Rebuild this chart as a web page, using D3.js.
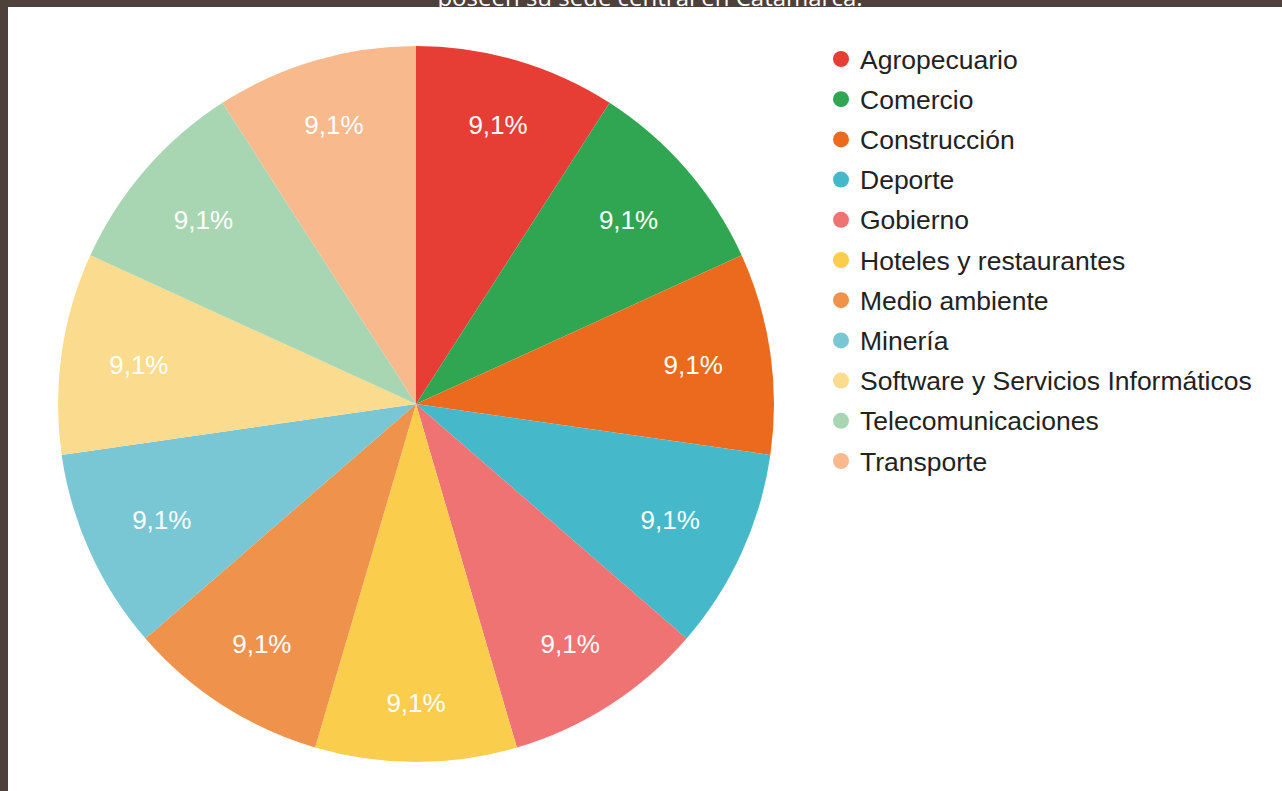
<!DOCTYPE html>
<html>
<head>
<meta charset="utf-8">
<script src="https://cdn.jsdelivr.net/npm/d3@7"></script>
<style>
  html, body { margin: 0; padding: 0; background: #4e403b; }
  svg { display: block; }
  .sans { font-family: "Liberation Sans", Arial, Helvetica, sans-serif; }
  .head { font-family: "Open Sans", sans-serif; }
</style>
</head>
<body>
<svg id="chart" width="1282" height="791"></svg>
<script>
// Sectors with headquarters in Catamarca (share of companies)
const categories = [
  "Agropecuario", "Comercio", "Construcción", "Deporte", "Gobierno",
  "Hoteles y restaurantes", "Medio ambiente", "Minería",
  "Software y Servicios Informáticos", "Telecomunicaciones", "Transporte"
];
const values = [1, 1, 1, 1, 1, 1, 1, 1, 1, 1, 1];
const colors = [
  "#e63e34", "#30a652", "#ec6a1e", "#45b9c9", "#ef7372",
  "#fbcd4c", "#ef924b", "#79c6d5", "#fbdc8e", "#a9d6b2", "#f8ba8d"
];
const titleText = "poseen su sede central en Catamarca.";

const svg = d3.select("#chart");
const W = 1282, H = 791;

// frame: dark band with the cut-off heading, white panel below
svg.append("rect").attr("width", W).attr("height", H).attr("fill", "#4e403b");
svg.append("text")
  .attr("class", "head")
  .attr("x", 650).attr("y", 6)
  .attr("text-anchor", "middle")
  .attr("font-size", 24)
  .attr("fill", "#ffffff")
  .text(titleText);
svg.append("rect").attr("x", 8).attr("y", 7).attr("width", W - 8).attr("height", H - 7).attr("fill", "#ffffff");

const cx = 416, cy = 404, R = 358;
const total = d3.sum(values);
const fmt = v => d3.format(".1f")(v * 100 / total).replace(".", ",") + "%";

const pie = d3.pie().sort(null).value(d => d.value);
const arcs = pie(categories.map((c, i) => ({ name: c, value: values[i], color: colors[i] })));
const arc = d3.arc().innerRadius(0).outerRadius(R);

const g = svg.append("g").attr("transform", `translate(${cx},${cy})`);
g.selectAll("path.slice")
  .data(arcs)
  .join("path")
  .attr("class", "slice")
  .attr("d", arc)
  .attr("fill", d => d.data.color);

// percentage labels: the label box is pushed out along the slice's
// mid-angle until its outer corner reaches a fixed radius
const cornerR = 311, boxH = 22;
g.selectAll("text.pct")
  .data(arcs)
  .join("text")
  .attr("class", "pct sans")
  .attr("text-anchor", "middle")
  .attr("dy", "0.36em")
  .attr("font-size", 26)
  .attr("fill", "#ffffff")
  .text(d => fmt(d.data.value))
  .each(function (d) {
    const w = this.getComputedTextLength();
    const a = (d.startAngle + d.endAngle) / 2;
    const ux = Math.sin(a), uy = -Math.cos(a);
    const B = Math.abs(ux) * w / 2 + Math.abs(uy) * boxH / 2;
    const C = (w * w + boxH * boxH) / 4 - cornerR * cornerR;
    const t = -B + Math.sqrt(B * B - C);
    d3.select(this).attr("transform", `translate(${t * ux},${t * uy})`);
  });

// legend
const legend = svg.append("g").attr("transform", "translate(841,59)");
const rowH = 40.2;
const items = legend.selectAll("g.item")
  .data(arcs)
  .join("g")
  .attr("class", "item")
  .attr("transform", (d, i) => `translate(0,${i * rowH})`);
items.append("circle").attr("r", 8).attr("fill", d => d.data.color);
items.append("text")
  .attr("class", "sans")
  .attr("x", 19)
  .attr("dy", "0.36em")
  .attr("font-size", 26.5)
  .attr("fill", "#222222")
  .text(d => d.data.name);
</script>
</body>
</html>
